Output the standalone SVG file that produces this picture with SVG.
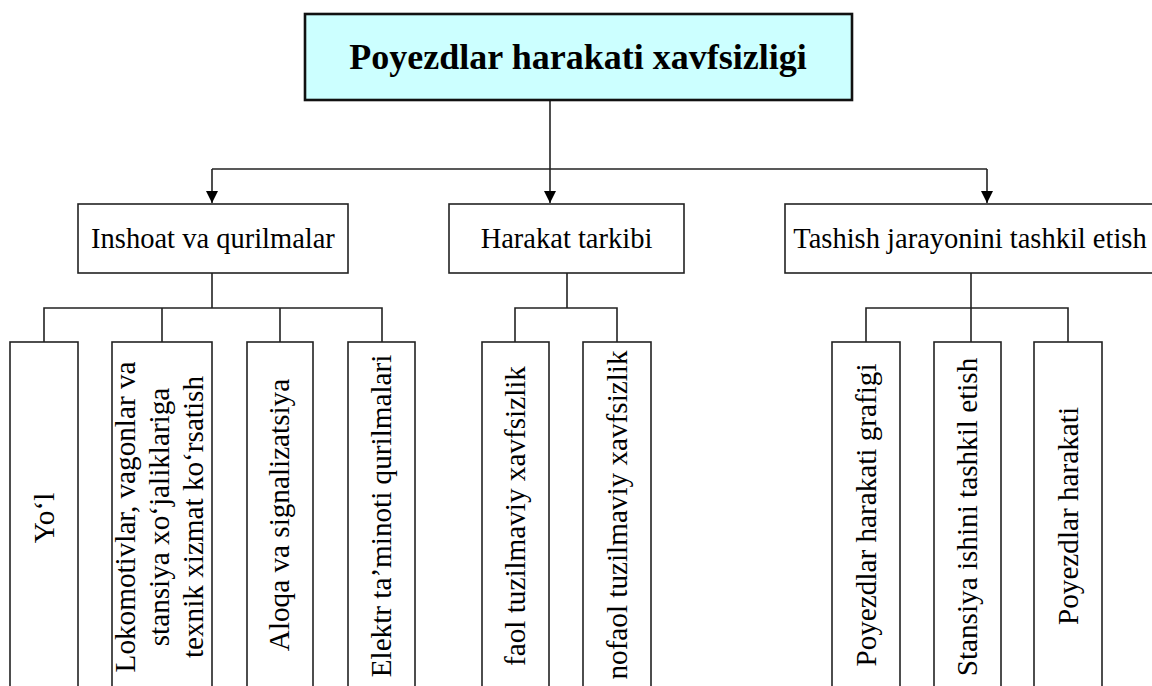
<svg xmlns="http://www.w3.org/2000/svg" width="1152" height="686" viewBox="0 0 1152 686">
<style>
.box{fill:#fff;stroke:#222;stroke-width:1.6}
.top{fill:#ccffff;stroke:#111;stroke-width:2.6}
.ln{fill:none;stroke:#222;stroke-width:1.6}
.t{font-family:"Liberation Serif","Times New Roman",serif;font-size:28.5px;fill:#000;text-anchor:middle}
.v{font-size:29.2px}
.tt{font-family:"Liberation Serif","Times New Roman",serif;font-size:36px;font-weight:bold;fill:#000;text-anchor:middle}
</style>
<defs>
<marker id="arr" viewBox="0 0 12 12" refX="12" refY="6" markerWidth="12" markerHeight="12" markerUnits="userSpaceOnUse" orient="auto">
<path d="M0,0 L12,6 L0,12 z" fill="#000"/>
</marker>
</defs>
<g id="connectors">
<path class="ln" d="M550,100 V203" marker-end="url(#arr)"/>
<path class="ln" d="M212,169 H987"/>
<path class="ln" d="M212,169 V203" marker-end="url(#arr)"/>
<path class="ln" d="M987,169 V203" marker-end="url(#arr)"/>
<path class="ln" d="M212,273 V308 M44,342 V308 H382 V342 M162,308 V342 M280,308 V342"/>
<path class="ln" d="M567,273 V308 M515,342 V308 H617 V342"/>
<path class="ln" d="M971,273 V342 M866,342 V308 H1068 V342"/>
</g>
<g id="root">
<rect class="top" x="305" y="14" width="547" height="86"/>
<text class="tt" x="578" y="69">Poyezdlar harakati xavfsizligi</text>
</g>
<g id="inshoat">
<rect class="box" x="78" y="204" width="270" height="69"/>
<text class="t" x="213" y="248">Inshoat va qurilmalar</text>
</g>
<g id="harakat">
<rect class="box" x="449" y="204" width="235" height="69"/>
<text class="t" x="566.5" y="248">Harakat tarkibi</text>
</g>
<g id="tashish">
<rect class="box" x="785" y="204" width="380" height="69"/>
<text class="t" x="970" y="248">Tashish jarayonini tashkil etish</text>
</g>
<g id="yol">
<rect class="box" x="10" y="342" width="68" height="360"/>
<text class="t v" transform="translate(53.5,518) rotate(-90)">Yo‘l</text>
</g>
<g id="lokomotiv">
<rect class="box" x="112" y="342" width="100" height="360"/>
<text class="t v" transform="translate(135,517) rotate(-90)">Lokomotivlar, vagonlar va</text>
<text class="t v" transform="translate(169,517) rotate(-90)">stansiya xo‘jaliklariga</text>
<text class="t v" transform="translate(203,517) rotate(-90)">texnik xizmat ko‘rsatish</text>
</g>
<g id="aloqa">
<rect class="box" x="247" y="342" width="66" height="360"/>
<text class="t v" transform="translate(289,515) rotate(-90)">Aloqa va signalizatsiya</text>
</g>
<g id="elektr">
<rect class="box" x="348" y="342" width="67" height="360"/>
<text class="t v" transform="translate(390.5,516) rotate(-90)">Elektr ta’minoti qurilmalari</text>
</g>
<g id="faol">
<rect class="box" x="482" y="342" width="67" height="360"/>
<text class="t v" transform="translate(525,516) rotate(-90)">faol tuzilmaviy xavfsizlik</text>
</g>
<g id="nofaol">
<rect class="box" x="583" y="342" width="68" height="360"/>
<text class="t v" transform="translate(626.5,515) rotate(-90)">nofaol tuzilmaviy xavfsizlik</text>
</g>
<g id="grafik">
<rect class="box" x="832" y="342" width="68" height="360"/>
<text class="t v" transform="translate(875.5,515) rotate(-90)">Poyezdlar harakati grafigi</text>
</g>
<g id="stansiya">
<rect class="box" x="934" y="342" width="67" height="360"/>
<text class="t v" transform="translate(977,517) rotate(-90)">Stansiya ishini tashkil etish</text>
</g>
<g id="poyezdlar">
<rect class="box" x="1034" y="342" width="68" height="360"/>
<text class="t v" transform="translate(1077.5,516) rotate(-90)">Poyezdlar harakati</text>
</g>
</svg>
